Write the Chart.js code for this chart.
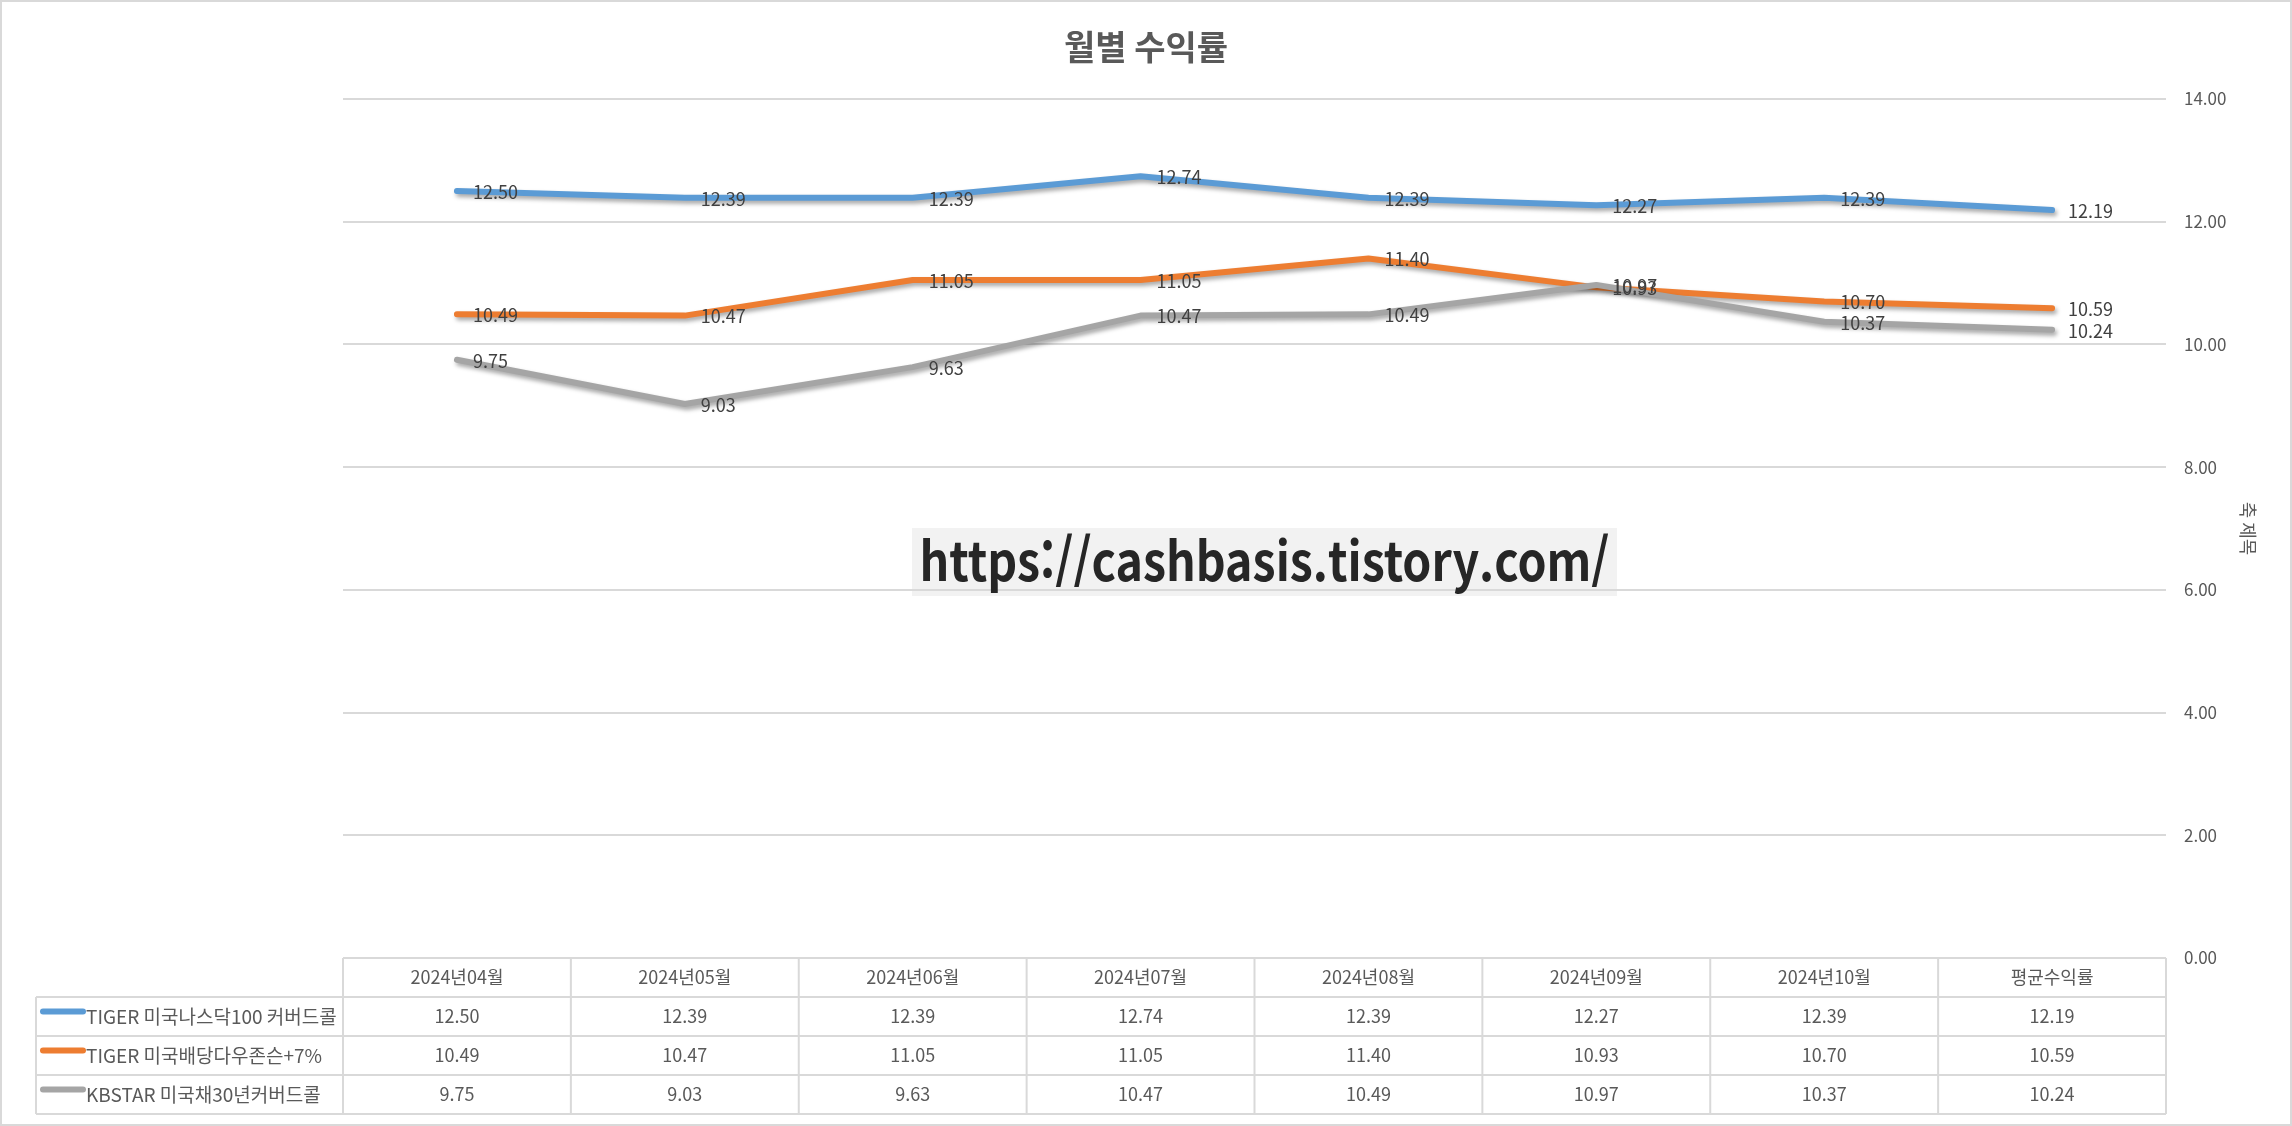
<!DOCTYPE html>
<html lang="ko">
<head>
<meta charset="utf-8">
<title>월별 수익률</title>
<script src="https://cdn.jsdelivr.net/npm/chart.js@4.4.1/dist/chart.umd.min.js"></script>
<style>
    html, body { margin: 0; padding: 0; background: #fff; }
    #wrap { width: 2292px; height: 1126px; }
</style>
</head>
<body>
<div id="wrap"><canvas id="returnsChart" width="2292" height="1126"></canvas></div>
<script>
    // 월별 수익률 data
    const chartTitle = "월별 수익률";
    const categories = ["2024년04월", "2024년05월", "2024년06월", "2024년07월", "2024년08월", "2024년09월", "2024년10월", "평균수익률"];
    const seriesNames = ["TIGER 미국나스닥100 커버드콜", "TIGER 미국배당다우존슨+7%", "KBSTAR 미국채30년커버드콜"];
    const nasdaqValues = [12.50, 12.39, 12.39, 12.74, 12.39, 12.27, 12.39, 12.19];
    const dowValues = [10.49, 10.47, 11.05, 11.05, 11.40, 10.93, 10.70, 10.59];
    const bondValues = [9.75, 9.03, 9.63, 10.47, 10.49, 10.97, 10.37, 10.24];
    const seriesColors = ["#5b9bd5", "#ed7d31", "#a5a5a5"];
    const yMin = 0;
    const yMax = 14;
    const yStep = 2;
    const watermarkText = "https://cashbasis.tistory.com/";

    const fontFamily = "'Noto Sans CJK KR', 'Noto Sans', sans-serif";
    Chart.defaults.font.family = fontFamily;

    let lineShadow = {
        id: "lineShadow",
        beforeDatasetDraw(chart) {
            let ctx = chart.ctx;
            ctx.save();
            ctx.shadowColor = "rgba(0, 0, 0, 0.35)";
            ctx.shadowBlur = 4;
            ctx.shadowOffsetX = 2;
            ctx.shadowOffsetY = 3;
        },
        afterDatasetDraw(chart) {
            chart.ctx.restore();
        }
    };

    let backdrop = {
        id: "backdrop",
        beforeDraw(chart) {
            let ctx = chart.ctx;
            ctx.save();
            ctx.fillStyle = "#ffffff";
            ctx.fillRect(0, 0, chart.width, chart.height);
            // watermark box sits under the gridlines
            ctx.fillStyle = "#f2f2f2";
            ctx.fillRect(912, 528, 705, 68);

            // title is centred on the whole canvas, not on the plot area
            ctx.fillStyle = "#595959";
            ctx.font = "bold 34px " + fontFamily;
            ctx.textAlign = "center";
            ctx.textBaseline = "middle";
            ctx.fillText(chartTitle, chart.width / 2, 47);
            ctx.restore();
        }
    };

    let valueLabels = {
        id: "valueLabels",
        afterDatasetsDraw(chart) {
            let ctx = chart.ctx;
            ctx.save();
            ctx.font = "18px " + fontFamily;
            ctx.fillStyle = "#404040";
            ctx.textAlign = "left";
            ctx.textBaseline = "middle";
            chart.data.datasets.forEach((ds, d) => {
                let meta = chart.getDatasetMeta(d);
                meta.data.forEach((pt, i) => {
                    ctx.fillText(ds.data[i].toFixed(2), pt.x + 16, pt.y + 1);
                });
            });
            ctx.restore();
        }
    };

    let dataTable = {
        id: "dataTable",
        afterDraw(chart) {
            let ctx = chart.ctx;
            let area = chart.chartArea;
            let xScale = chart.scales.x;
            let colW = (area.right - area.left) / categories.length;
            let rowH = 39;
            let top = area.bottom;
            let legendLeft = 36;
            let rows = chart.data.datasets;

            ctx.save();
            ctx.strokeStyle = "#d9d9d9";
            ctx.lineWidth = 2;

            // horizontal lines
            ctx.beginPath();
            ctx.moveTo(area.left, top);
            ctx.lineTo(area.right, top);
            for (let r = 1; r <= rows.length + 1; r++) {
                ctx.moveTo(legendLeft, top + r * rowH);
                ctx.lineTo(area.right, top + r * rowH);
            }
            // vertical lines
            for (let c = 0; c <= categories.length; c++) {
                let x = c < categories.length ? xScale.getPixelForValue(c) - colW / 2 : area.right;
                ctx.moveTo(x, top);
                ctx.lineTo(x, top + (rows.length + 1) * rowH);
            }
            ctx.moveTo(legendLeft, top + rowH);
            ctx.lineTo(legendLeft, top + (rows.length + 1) * rowH);
            ctx.stroke();

            ctx.font = "18px " + fontFamily;
            ctx.fillStyle = "#595959";
            ctx.textBaseline = "middle";
            ctx.textAlign = "center";
            categories.forEach((cat, c) => {
                ctx.fillText(cat, xScale.getPixelForValue(c), top + rowH / 2);
            });
            rows.forEach((ds, r) => {
                let cy = top + (r + 1) * rowH + rowH / 2;
                ds.data.forEach((v, c) => {
                    ctx.fillText(v.toFixed(2), xScale.getPixelForValue(c), cy);
                });
            });

            // legend keys
            ctx.textAlign = "left";
            ctx.lineCap = "round";
            ctx.font = "19px " + fontFamily;
            rows.forEach((ds, r) => {
                let cy = top + (r + 1) * rowH + rowH / 2;
                ctx.strokeStyle = ds.borderColor;
                ctx.lineWidth = 6;
                ctx.beginPath();
                ctx.moveTo(43, cy - 5);
                ctx.lineTo(83, cy - 5);
                ctx.stroke();
                ctx.fillText(ds.label, 86, cy, 252);
            });
            ctx.restore();
        }
    };

    let frame = {
        id: "frame",
        afterDraw(chart) {
            let ctx = chart.ctx;
            ctx.save();
            ctx.fillStyle = "#262626";
            ctx.font = "bold 54px " + fontFamily;
            ctx.textAlign = "center";
            ctx.textBaseline = "middle";
            ctx.fillText(watermarkText, 912 + 705 / 2, 560, 690);

            ctx.strokeStyle = "#d9d9d9";
            ctx.lineWidth = 2;
            ctx.strokeRect(1, 1, chart.width - 2, chart.height - 2);
            ctx.restore();
        }
    };

    let datasets = [nasdaqValues, dowValues, bondValues].map((values, i) => ({
        label: seriesNames[i],
        data: values,
        borderColor: seriesColors[i],
        backgroundColor: seriesColors[i],
        borderWidth: 6,
        borderJoinStyle: "round",
        borderCapStyle: "round",
        pointRadius: 0,
        tension: 0,
        fill: false,
        order: 3 - i
    }));

    new Chart(document.getElementById("returnsChart"), {
        type: "line",
        data: { labels: categories, datasets: datasets },
        options: {
            responsive: false,
            devicePixelRatio: 1,
            animation: false,
            layout: { padding: { left: 343, right: 0, top: 99, bottom: 168 } },
            plugins: {
                legend: { display: false },
                tooltip: { enabled: false },
                title: { display: false }
            },
            scales: {
                x: {
                    type: "category",
                    display: false,
                    offset: true
                },
                y: {
                    position: "right",
                    min: yMin,
                    max: yMax,
                    afterFit(scale) { scale.width = 126; },
                    border: { display: false },
                    grid: { color: "#d9d9d9", lineWidth: 2, drawTicks: false },
                    ticks: {
                        stepSize: yStep,
                        padding: 18,
                        color: "#595959",
                        font: { size: 17 },
                        callback: v => v.toFixed(2)
                    },
                    title: {
                        display: true,
                        text: "축 제목",
                        color: "#595959",
                        font: { size: 18 },
                        padding: { top: 33, bottom: 0 }
                    }
                }
            }
        },
        plugins: [backdrop, lineShadow, valueLabels, dataTable, frame]
    });
</script>
</body>
</html>
